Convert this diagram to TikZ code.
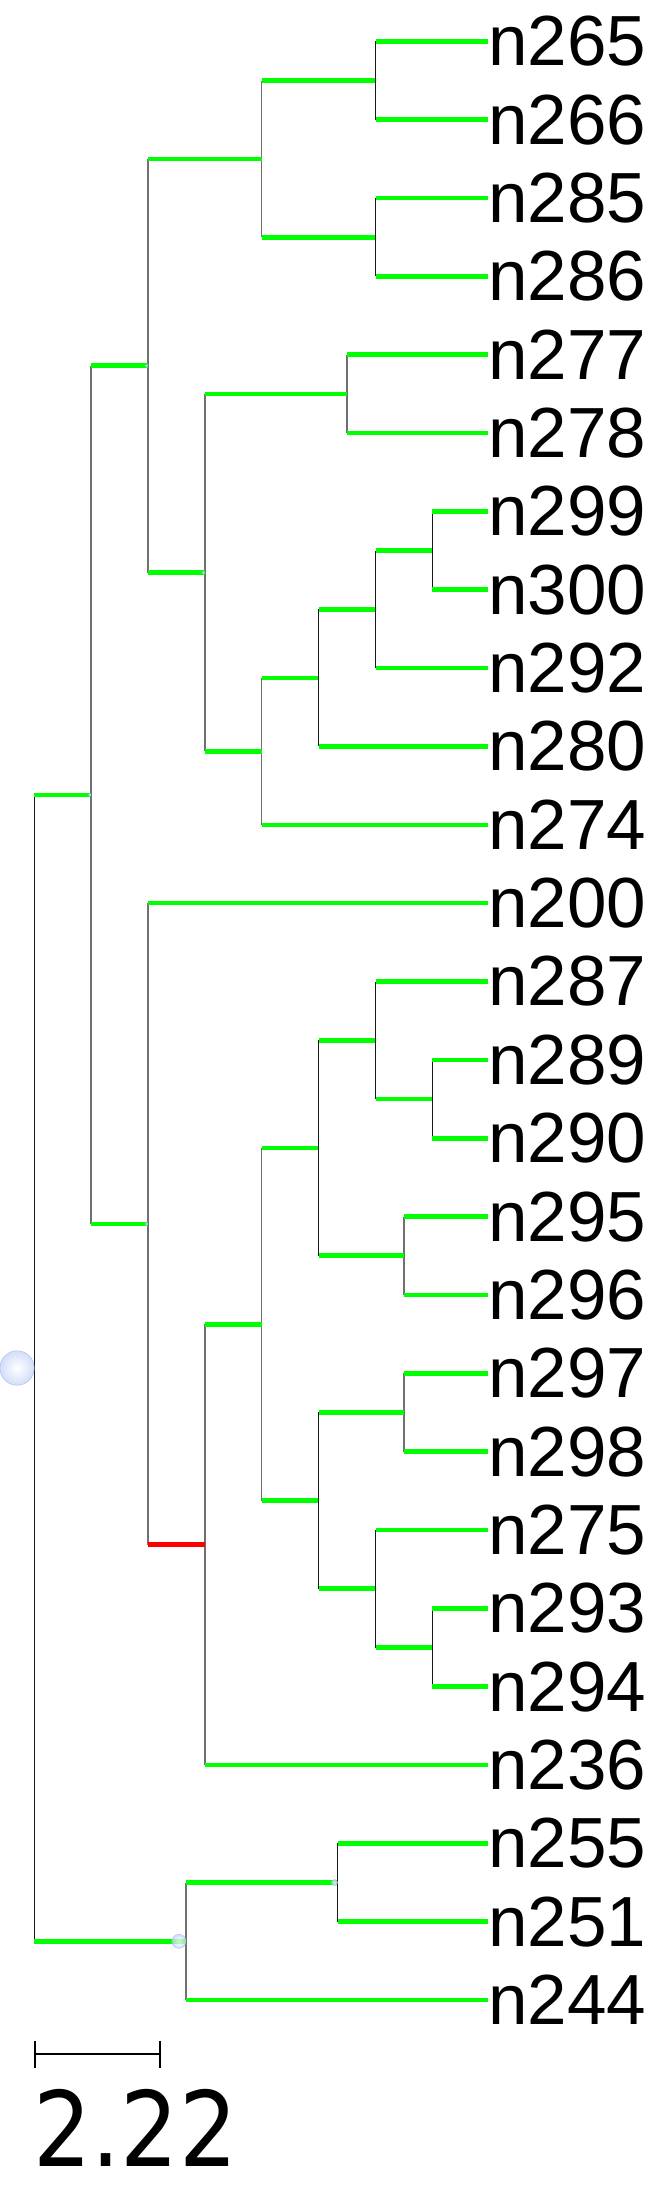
\documentclass[tikz,border=0pt]{standalone}
\usepackage{fontspec}
\setmainfont{Liberation Sans}
\newfontfamily\barfont[FakeStretch=0.88]{DejaVu Sans}
\definecolor{brgreen}{RGB}{0,255,0}
\definecolor{brred}{RGB}{255,0,0}
\definecolor{vgraycol}{RGB}{112,112,112}
\definecolor{vdarkcol}{RGB}{25,25,25}
\definecolor{ballfill}{RGB}{196,210,246}
\definecolor{balledge}{RGB}{160,182,236}
\usetikzlibrary{arrows.meta}

\begin{document}
\begin{tikzpicture}[x=1pt, y=-1pt,
    pt/.style={inner sep=0pt, minimum size=0pt},
    leaf/.style={anchor=west, inner sep=0pt, font=\fontsize{71}{84}\selectfont},
    vgray/.style={draw=vgraycol, line width=1.5pt},
    vdark/.style={draw=vdarkcol, line width=1.4pt},
    gbranch/.style={draw=brgreen, line width=4.6pt},
    rbranch/.style={draw=brred, line width=4.6pt},
    ball/.style={circle, inner sep=0pt, draw=balledge, line width=0.6pt,
                 inner color=white, outer color=ballfill, opacity=0.75},
    scalebar/.style={line width=1.8pt, {Bar[width=27pt]}-{Bar[width=27pt]}}
  ]
    \useasboundingbox (0,0) rectangle (648,2185);

    % leaves
    \foreach \lab [count=\i from 0] in {n265,n266,n285,n286,n277,n278,n299,n300,
        n292,n280,n274,n200,n287,n289,n290,n295,n296,n297,n298,n275,n293,n294,
        n236,n255,n251,n244}
      \node[leaf] (\lab) at (488, {41.3+78.35*\i}) {\lab};

    % inner nodes
    \node[pt] (root) at (34.3, 1368.0) {};
    \node[pt] (a) at (91.2, 794.8) {};
    \node[pt] (w) at (185.9, 1941.3) {};
    \node[pt] (b) at (148.0, 365.7) {};
    \node[pt] (l) at (148.0, 1223.9) {};
    \node[pt] (c) at (261.7, 158.8) {};
    \node[pt] (f) at (204.9, 572.6) {};
    \node[pt] (d) at (375.5, 80.5) {};
    \node[pt] (e) at (375.5, 237.2) {};
    \node[pt] (g) at (347.0, 393.9) {};
    \node[pt] (h) at (261.7, 751.3) {};
    \node[pt] (i) at (318.6, 677.9) {};
    \node[pt] (j) at (375.5, 609.3) {};
    \node[pt] (k) at (432.3, 550.6) {};
    \node[pt] (m) at (204.9, 1544.6) {};
    \node[pt] (n) at (261.7, 1324.3) {};
    \node[pt] (o) at (318.6, 1148.0) {};
    \node[pt] (p) at (375.5, 1040.3) {};
    \node[pt] (q) at (432.3, 1099.0) {};
    \node[pt] (r) at (403.9, 1255.7) {};
    \node[pt] (s) at (318.6, 1500.6) {};
    \node[pt] (t) at (403.9, 1412.4) {};
    \node[pt] (u) at (375.5, 1588.7) {};
    \node[pt] (v) at (432.3, 1647.5) {};
    \node[pt] (x) at (337.5, 1882.5) {};

    % vertical lines
    \foreach \p/\c in {a/b,a/l,b/c,b/f,c/d,c/e,f/g,f/h,g/n277,g/n278,h/i,h/n274,
        l/n200,l/m,m/n,m/n236,n/o,n/s,r/n295,r/n296,t/n297,t/n298,w/x,w/n244}
      \draw[vgray] (\p.center) -- (\p |- \c.west);
    \foreach \p/\c in {root/a,root/w,d/n265,d/n266,e/n285,e/n286,i/j,i/n280,
        j/k,j/n292,k/n299,k/n300,o/p,o/r,p/n287,p/q,q/n289,q/n290,s/t,s/u,
        u/n275,u/v,v/n293,v/n294,x/n255,x/n251}
      \draw[vdark] (\p.center) -- (\p |- \c.west);

    % branches
    \foreach \p/\c in {root/a,root/w,a/b,a/l,b/c,b/f,c/d,c/e,d/n265,d/n266,
        e/n285,e/n286,f/g,f/h,g/n277,g/n278,h/i,h/n274,i/j,i/n280,j/k,j/n292,
        k/n299,k/n300,l/n200,m/n,m/n236,n/o,n/s,o/p,o/r,p/n287,p/q,q/n289,
        q/n290,r/n295,r/n296,s/t,s/u,t/n297,t/n298,u/n275,u/v,v/n293,v/n294,
        w/x,w/n244,x/n255,x/n251}
      \draw[gbranch] (\p |- \c.west) -- (\c.west);
    \draw[rbranch] (l |- m.west) -- (m.west);

    % support balls
    \node[ball, minimum size=34.4pt] (rootball) at (17.1, 1368.0) {};
    \node[ball, minimum size=14pt] (wball) at (178.9, 1941.3) {};
    \node[ball, minimum size=6pt] (xball) at (334.5, 1882.5) {};
    \foreach \b in {a,b,f,l}
      \node[ball, minimum size=3pt, xshift=-1.5pt] (\b ball) at (\b) {};

    % scale
    \coordinate (sb0) at (34.3, 2054);
    \coordinate (sb1) at (160.7, 2054);
    \draw[scalebar] (sb0) -- (sb1);
    \node[anchor=base west, inner sep=0pt, font=\barfont\fontsize{104}{120}\selectfont]
      (scalelab) at (33.3, 2166.7) {2.22};
  \end{tikzpicture}
\end{document}
